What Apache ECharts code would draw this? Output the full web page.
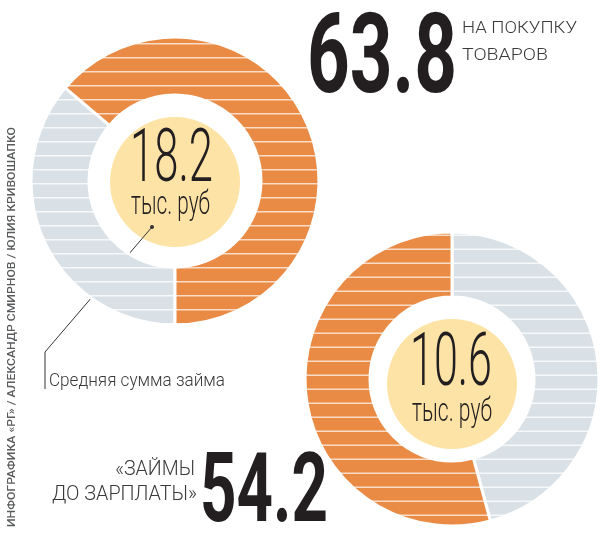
<!DOCTYPE html>
<html>
<head>
<meta charset="utf-8">
<script src="https://cdn.jsdelivr.net/npm/echarts@6/dist/echarts.min.js"></script>
<style>
  html, body { margin: 0; padding: 0; background: #fff; }
  #chart { width: 605px; height: 533px; }
</style>
</head>
<body>
<div id="chart"></div>
<script>
// доли, %
var topValues = [36.2, 63.8];     // прочее / на покупку товаров
var bottomValues = [45.8, 54.2];  // прочее / «займы до зарплаты»
var topLabel = ['63.8', 'НА ПОКУПКУ', 'ТОВАРОВ'];
var bottomLabel = ['54.2', '«ЗАЙМЫ', 'ДО ЗАРПЛАТЫ»'];
var avgLoan = ['18.2', '10.6'];   // тыс. руб
var unit = 'тыс. руб';
var note = 'Средняя сумма займа';
var credit = 'ИНФОГРАФИКА «РГ» / АЛЕКСАНДР СМИРНОВ / ЮЛИЯ КРИВОШАПКО';

var ORANGE = '#e98b45', GREY = '#d9e1e7', YELLOW = '#fde3a6';
var INK = '#231f20';

// striped fill (horizontal light lines every 14px)
function stripes(base, line, phase) {
  var c = document.createElement('canvas');
  c.width = 4; c.height = 14;
  var ctx = c.getContext('2d');
  ctx.fillStyle = base;
  ctx.fillRect(0, 0, 4, 14);
  ctx.fillStyle = line;
  ctx.fillRect(0, phase, 4, 1.5);
  return { image: c, repeat: 'repeat' };
}

var measureCtx = document.createElement('canvas').getContext('2d');
function font(size, weight) {
  return weight + ' ' + size + 'px Roboto';
}
// text squeezed to a given width (condensed look)
function txt(str, x, baseline, size, weight, width, color, align) {
  measureCtx.font = font(size, weight);
  var w = measureCtx.measureText(str).width;
  return {
    type: 'text',
    x: x,
    y: baseline - 0.34 * size,
    scaleX: width / w,
    silent: true,
    style: {
      text: str,
      font: font(size, weight),
      fill: color || INK,
      align: align || 'left',
      verticalAlign: 'middle'
    }
  };
}

function donut(center, radius, startAngle, values, phase) {
  return {
    type: 'pie',
    center: center,
    radius: radius,
    startAngle: startAngle,
    clockwise: true,
    silent: true,
    label: { show: false },
    labelLine: { show: false },
    emphasis: { disabled: true },
    itemStyle: { borderColor: '#fff', borderWidth: 3 },
    data: [
      { value: values[0], itemStyle: { color: stripes(GREY, 'rgba(255,255,255,0.75)', phase) } },
      { value: values[1], itemStyle: { color: stripes(ORANGE, 'rgba(255,255,255,0.7)', phase) } }
    ]
  };
}

var myChart = echarts.init(document.getElementById('chart'));

// vertical credit line, reads bottom to top
var credTxt = txt(credit, 0, 0, 11, 500, 400, '#5a5b5d');
credTxt.x = 12.5;
credTxt.y = 527;
credTxt.rotation = Math.PI / 2;

myChart.setOption({
  animation: false,
  series: [
    donut([175, 181], [86, 144], -90, topValues, 1),
    donut([452, 379], [82, 147], 90, bottomValues, 10.5)
  ],
  graphic: [
    { type: 'circle', shape: { cx: 175, cy: 182, r: 65 }, style: { fill: YELLOW }, silent: true },
    { type: 'circle', shape: { cx: 452, cy: 384, r: 65 }, style: { fill: YELLOW }, silent: true },

    txt(avgLoan[0], 130, 188, 74, 300, 83),
    txt(unit, 131, 217, 34, 300, 79),
    txt(avgLoan[1], 410, 392, 74, 300, 82),
    txt(unit, 412, 424, 34, 300, 80),

    txt(topLabel[0], 307, 102, 112, 700, 150),
    txt(topLabel[1], 462, 35, 17, 300, 115, '#3a3a3a'),
    txt(topLabel[2], 462, 62, 17, 300, 86, '#3a3a3a'),

    txt(bottomLabel[0], 200, 530, 96, 700, 128),
    txt(bottomLabel[1], 195, 477, 20, 300, 80, '#3a3a3a', 'right'),
    txt(bottomLabel[2], 197, 502, 20, 300, 145, '#3a3a3a', 'right'),

    txt(note, 49, 388, 18, 300, 176, '#3a3a3a'),
    {
      type: 'polyline', silent: true,
      shape: { points: [[152, 227], [45, 352], [45, 389]] },
      style: { stroke: '#333', lineWidth: 1, fill: null }
    },
    { type: 'circle', shape: { cx: 152, cy: 227, r: 2 }, style: { fill: '#333' }, silent: true },

    credTxt
  ]
});
</script>
</body>
</html>
